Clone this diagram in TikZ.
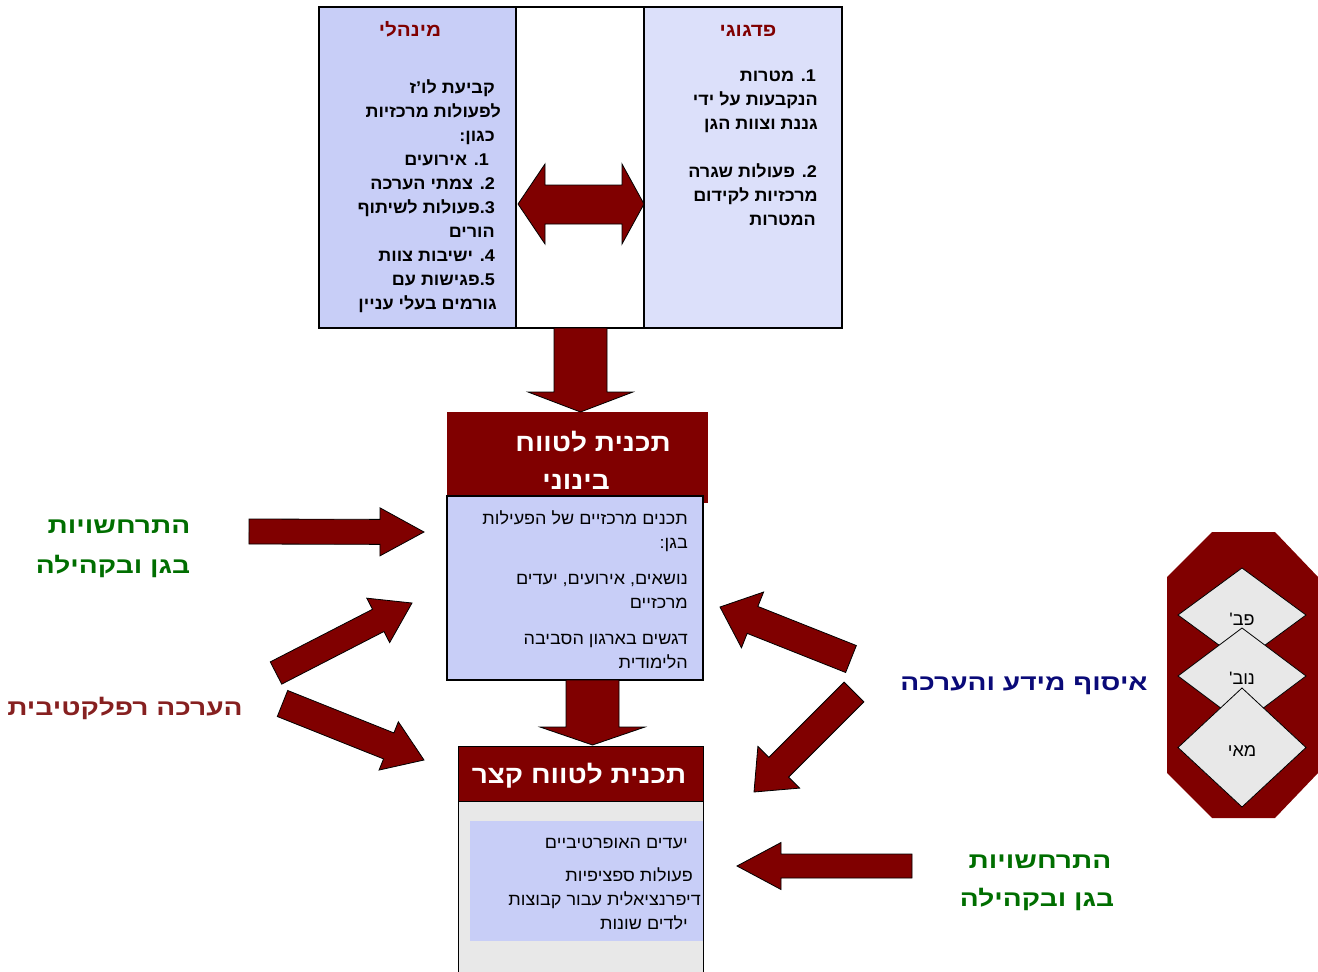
\documentclass[tikz,border=0pt]{standalone}
\usepackage{fontspec}
\usetikzlibrary{calc}
\TeXXeTstate=1
\newfontfamily\hebfont[Script=Hebrew, FakeStretch=1.06]{Liberation Sans}
\newfontfamily\hebmid[Script=Hebrew, FakeStretch=1.12]{Liberation Sans}
\newfontfamily\hebwide[Script=Hebrew, FakeStretch=1.25]{Liberation Sans}
\newfontfamily\hebplain[Script=Hebrew]{Liberation Sans}
\newcommand{\heb}[1]{\beginR #1\endR}
\definecolor{dred}{HTML}{800000}
\definecolor{pblue}{HTML}{C8CEF7}
\definecolor{lblue}{HTML}{DCE0FA}
\definecolor{lgray}{HTML}{E8E8E8}
\definecolor{dgreen}{HTML}{006E00}
\definecolor{navyc}{HTML}{0A0A78}
\definecolor{rred}{HTML}{862020}
\tikzset{
  arrowstyle/.style={fill=dred, draw=black, line width=0.8pt, line join=miter},
  tb/.style={font=\hebfont\bfseries\fontsize{17}{20}\selectfont, inner sep=0pt, anchor=base east},
  tr/.style={font=\hebfont\fontsize{17}{20}\selectfont, inner sep=0pt, anchor=base east},
  hd/.style={font=\hebmid\bfseries\fontsize{18.5}{20}\selectfont, text=dred, inner sep=0pt, anchor=base},
  big/.style={font=\hebmid\bfseries\fontsize{25}{28}\selectfont, text=white, inner sep=0pt, anchor=base},
  lab/.style={font=\hebwide\bfseries\fontsize{22.5}{26}\selectfont, inner sep=0pt, anchor=base},
  dlab/.style={font=\hebplain\fontsize{18}{20}\selectfont, inner sep=0pt, anchor=base},
}
\newcommand{\blockarrow}[5]{%
  \coordinate (ba-h) at ($(#2)!#5!(#1)$);
  \path[arrowstyle] ($(#1)!#3!90:(#2)$) -- ($(ba-h)!#3!90:(#2)$) -- ($(ba-h)!#4!90:(#2)$) -- (#2)
    -- ($(ba-h)!#4!-90:(#2)$) -- ($(ba-h)!#3!-90:(#2)$) -- ($(#1)!#3!-90:(#2)$) -- cycle;
}
\begin{document}
\begin{tikzpicture}[x=1pt, y=-1pt]
\useasboundingbox (0,0) rectangle (1318,972);
\fill[white] (0,0) rectangle (1318,972);

% ---------- top box ----------
\fill[pblue] (319,7) rectangle (516,328);
\fill[lblue] (644,7) rectangle (842,328);
\draw[line width=1.3pt] (319,7) rectangle (842,328);
\draw[line width=1.3pt] (516,7) -- (516,328) (644,7) -- (644,328);

\node[hd] (hmin) at (410,36) {\heb{מינהלי}};
\node[hd] (hped) at (748,36) {\heb{פדגוגי}};

\node[tb] (m1) at (495,93) {\heb{קביעת לו’ז}};
\node[tb] (m2) at (501,117) {\heb{לפעולות מרכזיות}};
\node[tb] (m3) at (495,141) {\heb{כגון{:}}};
\node[tb] (m4) at (489,165) {\heb{1{.} אירועים}};
\node[tb] (m5) at (495,189) {\heb{2{.} צמתי הערכה}};
\node[tb] (m6) at (495,213) {\heb{3{.}פעולות לשיתוף}};
\node[tb] (m7) at (495,237) {\heb{הורים}};
\node[tb] (m8) at (495,261) {\heb{4{.} ישיבות צוות}};
\node[tb] (m9) at (495,285) {\heb{5{.}פגישות עם}};
\node[tb] (m10) at (497,309) {\heb{גורמים בעלי עניין}};

\node[tb] (p1) at (816,81) {\heb{1{.} מטרות}};
\node[tb] (p2) at (818,105) {\heb{הנקבעות על ידי}};
\node[tb] (p3) at (818,129) {\heb{גננת וצוות הגן}};
\node[tb] (p4) at (817,177) {\heb{2{.} פעולות שגרה}};
\node[tb] (p5) at (818,201) {\heb{מרכזיות לקידום}};
\node[tb] (p6) at (816,225) {\heb{המטרות}};

% double arrow
\path[arrowstyle] (518,204) -- (545,164) -- (545,185) -- (622,185) -- (622,164) -- (644,204)
  -- (622,244) -- (622,224) -- (545,224) -- (545,244) -- cycle;

% ---------- middle box ----------
\fill[dred] (447,412) rectangle (708,503);
\node[big] (t1) at (593,451) {\heb{תכנית לטווח}};
\node[big] (t2) at (576,489) {\heb{בינוני}};
\filldraw[fill=pblue, draw=black, line width=1.3pt] (447,496) rectangle (703,680);
\node[tr] (c1) at (688,524) {\heb{תכנים מרכזיים של הפעילות}};
\node[tr] (c2) at (688,548) {\heb{בגן{:}}};
\node[tr] (c3) at (688,584) {\heb{נושאים{,} אירועים{,} יעדים}};
\node[tr] (c4) at (688,608) {\heb{מרכזיים}};
\node[tr] (c5) at (688,644) {\heb{דגשים בארגון הסביבה}};
\node[tr] (c6) at (688,668) {\heb{הלימודית}};

% ---------- bottom box ----------
\filldraw[fill=lgray, draw=black, line width=1pt] (458,746) -- (458,975) -- (703,975) -- (703,746) -- cycle;
\fill[dred] (458,746) rectangle (703,801);
\draw[black, line width=0.6pt] (458,746) rectangle (703,801);
\node[big] (s1) at (579,783) {\heb{תכנית לטווח קצר}};
\fill[pblue] (470,821) rectangle (703,941);
\node[tr] (b1) at (688,848) {\heb{יעדים האופרטיביים}};
\node[tr] (b2) at (693,881) {\heb{פעולות ספציפיות}};
\node[tr] (b3) at (701,905) {\heb{דיפרנציאלית עבור קבוצות}};
\node[tr] (b4) at (688,929) {\heb{ילדים שונות}};

% ---------- vertical arrows ----------
\coordinate (d1s) at (580.5,328); \coordinate (d1e) at (580.5,412);
\blockarrow{d1s}{d1e}{26.5pt}{52.5pt}{20pt}
\coordinate (d2s) at (592.5,680); \coordinate (d2e) at (592.5,745);
\blockarrow{d2s}{d2e}{26.5pt}{52.5pt}{18pt}

% ---------- left side ----------
\node[lab, text=dgreen] (g1) at (119,533) {\heb{התרחשויות}};
\node[lab, text=dgreen] (g2) at (113,573) {\heb{בגן ובקהילה}};
\node[lab, text=rred] (rf) at (125,715) {\heb{הערכה רפלקטיבית}};

\coordinate (a1s) at (249,531.5); \coordinate (a1e) at (424,532);
\blockarrow{a1s}{a1e}{12.5pt}{24pt}{44pt}
\coordinate (a2s) at (276,673); \coordinate (a2e) at (412,603);
\blockarrow{a2s}{a2e}{12.5pt}{25pt}{38pt}
\coordinate (a3s) at (282.5,703.5); \coordinate (a3e) at (424,760);
\blockarrow{a3s}{a3e}{14pt}{26pt}{38pt}

% ---------- right side ----------
\coordinate (a4s) at (851,659); \coordinate (a4e) at (720,607);
\blockarrow{a4s}{a4e}{14.5pt}{30pt}{35pt}
\coordinate (a5s) at (854,692); \coordinate (a5e) at (754,792);
\blockarrow{a5s}{a5e}{14pt}{29.5pt}{35pt}
\coordinate (a6s) at (912,866); \coordinate (a6e) at (737,866);
\blockarrow{a6s}{a6e}{12pt}{23.5pt}{44pt}

\node[lab, text=navyc] (inf) at (1024,690) {\heb{איסוף מידע והערכה}};
\node[lab, text=dgreen] (g3) at (1040,868) {\heb{התרחשויות}};
\node[lab, text=dgreen] (g4) at (1037,906) {\heb{בגן ובקהילה}};

% ---------- octagon with diamonds ----------
\fill[dred] (1212,532) -- (1275,532) -- (1318,577) -- (1318,773) -- (1275,818) -- (1212,818)
  -- (1167,773) -- (1167,577) -- cycle;
\filldraw[fill=lgray, draw=black, line width=0.8pt] (1242,568) -- (1306,615) -- (1242,662) -- (1178,615) -- cycle;
\node[dlab] (mo1) at (1242,625) {\heb{פב{'}}};
\filldraw[fill=lgray, draw=black, line width=0.8pt] (1242,628) -- (1306,676) -- (1242,724) -- (1178,676) -- cycle;
\node[dlab] (mo2) at (1242,684) {\heb{נוב{'}}};
\filldraw[fill=lgray, draw=black, line width=0.8pt] (1242,688) -- (1306,747.5) -- (1242,807) -- (1178,747.5) -- cycle;
\node[dlab] (mo3) at (1242,756) {\heb{מאי}};
\end{tikzpicture}
\end{document}
